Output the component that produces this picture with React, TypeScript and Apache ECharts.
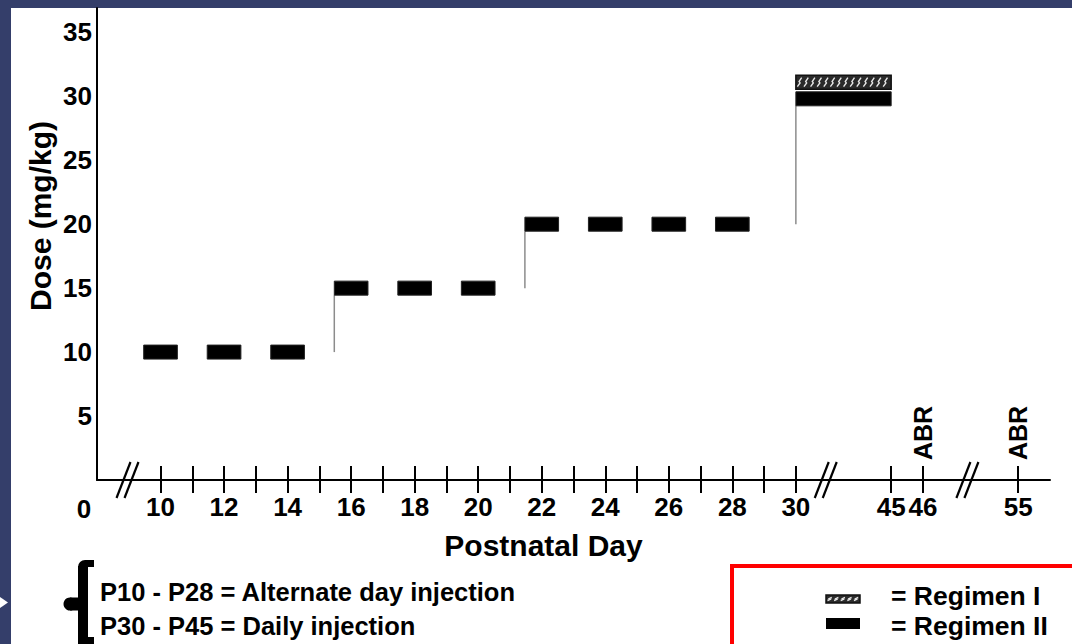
import React, { useEffect, useRef } from "react";
import * as echarts from "echarts";

// ---------- data ----------
const tickDays = [10, 11, 12, 13, 14, 15, 16, 17, 18, 19, 20, 21, 22, 23, 24, 25, 26, 27, 28, 29, 30, 45, 46, 55];
const labelDays = [10, 12, 14, 16, 18, 20, 22, 24, 26, 28, 30, 45, 46, 55];
const originLabelDay = 0;
const altDays = [10, 12, 14, 16, 18, 20, 22, 24, 26, 28];
const altDoses = [10, 10, 10, 15, 15, 15, 20, 20, 20, 20];
const dailyDays = [30, 45];
const dailyDoseRegimenI = 31.1;
const dailyDoseRegimenII = 29.8;
const abrDays = [46, 55];
const yLabels = [5, 10, 15, 20, 25, 30, 35];

// ---------- broken-axis layout (positions on the compressed axis) ----------
const compressedPos: Record<number, number> = { 0: 7.59, 45: 33, 46: 34, 55: 37 };
const dayToPos = (d: number) => (compressedPos[d] !== undefined ? compressedPos[d] : d);
const breakPositions = [8.96, 30.94, 35.4];
const BAR_HALF = 0.53;

const FONT = '"Liberation Sans", Arial, Helvetica, sans-serif';

function hatch(x: number, y: number, w: number, h: number) {
  const kids: any[] = [
    { type: "rect", shape: { x, y, width: w, height: h }, style: { fill: "#2a2a2a", stroke: "#111", lineWidth: 1.5 } },
  ];
  for (let k = x + 3; k < x + w - 2; k += 6.6) {
    kids.push({
      type: "polyline",
      shape: {
        points: [
          [k - 1.5, y + h - 2.5],
          [k + 1.2, y + h * 0.55],
          [k + 0.2, y + h * 0.45],
          [k + 2.8, y + 2.5],
        ],
      },
      style: { stroke: "#e6e6e6", lineWidth: 1.4, fill: null },
    });
  }
  return kids;
}

export default function App() {
  const ref = useRef<HTMLDivElement>(null);

  useEffect(() => {
    if (!ref.current) return;
    const chart = echarts.init(ref.current, undefined, { renderer: "svg" });

    const tickPos = tickDays.map(dayToPos);
    const labelPos = labelDays.map(dayToPos);
    const posToLabel: Record<string, string> = {};
    labelDays.forEach((d) => (posToLabel[String(dayToPos(d))] = String(d)));

    const barData: number[][] = altDays.map((d, i) => [dayToPos(d) - BAR_HALF, dayToPos(d) + BAR_HALF, altDoses[i], 0]);
    barData.push([dayToPos(dailyDays[0]), dayToPos(dailyDays[1]), dailyDoseRegimenII, 0]);
    barData.push([dayToPos(dailyDays[0]), dayToPos(dailyDays[1]), dailyDoseRegimenI, 1]);

    const stepData: number[][] = [];
    for (let i = 1; i < altDays.length; i++) {
      if (altDoses[i] !== altDoses[i - 1]) stepData.push([dayToPos(altDays[i]) - BAR_HALF, altDoses[i - 1], altDoses[i]]);
    }
    stepData.push([dayToPos(dailyDays[0]), altDoses[altDoses.length - 1], dailyDoseRegimenII]);

    const labelFont = { color: "#000", fontSize: 26, fontWeight: "bold" as const, fontFamily: FONT };

    chart.setOption({
      animation: false,
      grid: { left: 97, right: 22, top: 8, bottom: 164, containLabel: false, outerBoundsMode: "none" },
      xAxis: [
        {
          type: "value",
          min: 8,
          max: 38,
          position: "bottom",
          axisLine: { show: true, onZero: false, lineStyle: { color: "#000", width: 2 } },
          axisTick: { show: true, customValues: tickPos, length: 13, lineStyle: { color: "#000", width: 2 } },
          axisLabel: {
            show: true,
            customValues: labelPos,
            formatter: (v: number) => posToLabel[String(v)] ?? "",
            margin: 14,
            ...labelFont,
          },
          splitLine: { show: false },
          name: "Postnatal Day",
          nameLocation: "middle",
          nameGap: 50,
          nameMoveOverlap: false,
          nameTextStyle: { color: "#000", fontSize: 30, fontWeight: "bold", fontFamily: FONT, padding: [0, 60, 0, 0] },
        },
        {
          type: "value",
          min: 8,
          max: 38,
          position: "bottom",
          axisLine: { show: false, onZero: false },
          axisTick: { show: true, inside: true, customValues: tickPos, length: 14, lineStyle: { color: "#000", width: 2 } },
          axisLabel: { show: false },
          splitLine: { show: false },
        },
      ],
      yAxis: {
        type: "value",
        min: 0,
        max: 36.9,
        axisLine: { show: true, lineStyle: { color: "#000", width: 2 } },
        axisTick: { show: false },
        splitLine: { show: false },
        axisLabel: { customValues: yLabels, margin: 5, ...labelFont },
        name: "Dose (mg/kg)",
        nameLocation: "middle",
        nameGap: 42,
        nameMoveOverlap: false,
        nameTextStyle: { color: "#000", fontSize: 30, fontWeight: "bold", fontFamily: FONT, padding: [0, 0, 0, 56] },
      },
      series: [
        {
          type: "custom",
          name: "steps",
          xAxisIndex: 0,
          data: stepData,
          encode: { x: 0, y: [1, 2] },
          renderItem: (_p: any, api: any) => {
            const a = api.coord([api.value(0), api.value(1)]);
            const b = api.coord([api.value(0), api.value(2)]);
            return {
              type: "line",
              shape: { x1: a[0], y1: a[1], x2: b[0], y2: b[1] + 7 },
              style: { stroke: "#8c8c8c", lineWidth: 1.5 },
            };
          },
        },
        {
          type: "custom",
          name: "bars",
          xAxisIndex: 0,
          data: barData,
          encode: { x: [0, 1], y: 2 },
          renderItem: (_p: any, api: any) => {
            const a = api.coord([api.value(0), api.value(2)]);
            const b = api.coord([api.value(1), api.value(2)]);
            const x = a[0];
            const w = b[0] - a[0];
            const y = a[1] - 7;
            if (api.value(3) === 1) {
              return { type: "group", children: hatch(x, y, w, 14) };
            }
            return {
              type: "rect",
              shape: { x, y, width: w, height: 14 },
              style: { fill: "#000", stroke: "#222", lineWidth: 1 },
            };
          },
        },
        {
          type: "custom",
          name: "breaks",
          xAxisIndex: 0,
          data: breakPositions.map((p) => [p, 0]),
          renderItem: (_p: any, api: any) => {
            const c = api.coord([api.value(0), api.value(1)]);
            const kids = [-4, 4].map((dx) => ({
              type: "line",
              shape: { x1: c[0] + dx - 7, y1: c[1] + 18, x2: c[0] + dx + 7, y2: c[1] - 18 },
              style: { stroke: "#000", lineWidth: 2.2 },
            }));
            return { type: "group", children: kids };
          },
        },
        {
          type: "custom",
          name: "abr",
          xAxisIndex: 0,
          data: abrDays.map((d) => [dayToPos(d), 0]),
          renderItem: (_p: any, api: any) => {
            const c = api.coord([api.value(0), api.value(1)]);
            return {
              type: "text",
              x: c[0],
              y: c[1] - 20,
              rotation: Math.PI / 2,
              style: { text: "ABR", align: "left", verticalAlign: "middle", fill: "#000", font: `bold 25px ${FONT}` },
            };
          },
        },
        {
          type: "custom",
          name: "origin",
          xAxisIndex: 0,
          data: [[dayToPos(originLabelDay), 0]],
          renderItem: (_p: any, api: any) => {
            const c = api.coord([api.value(0), api.value(1)]);
            return {
              type: "text",
              x: c[0],
              y: c[1] + 29,
              style: { text: String(originLabelDay), align: "center", verticalAlign: "middle", fill: "#000", font: `bold 26px ${FONT}` },
            };
          },
        },
      ],
      graphic: [
        { type: "polygon", shape: { points: [[0, 597], [8, 602.5], [0, 608]] }, style: { fill: "#fff" } },
        // brace
        { type: "rect", shape: { x: 78, y: 566, width: 10, height: 80 }, style: { fill: "#000" } },
        { type: "rect", shape: { x: 78, y: 560, width: 16, height: 7, r: [7, 0, 0, 0] }, style: { fill: "#000" } },
        { type: "rect", shape: { x: 78, y: 637, width: 16, height: 7 }, style: { fill: "#000" } },
        { type: "circle", shape: { cx: 70, cy: 604, r: 6.5 }, style: { fill: "#000" } },
        { type: "rect", shape: { x: 70, y: 597.5, width: 10, height: 13 }, style: { fill: "#000" } },
        {
          type: "text",
          x: 100,
          y: 592,
          style: { text: "P10 - P28 = Alternate day injection", font: `bold 25.5px ${FONT}`, fill: "#000", verticalAlign: "middle" },
        },
        {
          type: "text",
          x: 100,
          y: 626,
          style: { text: "P30 - P45 = Daily injection", font: `bold 25.5px ${FONT}`, fill: "#000", verticalAlign: "middle" },
        },
        // legend box
        { type: "rect", shape: { x: 732, y: 566, width: 400, height: 120 }, style: { fill: "#fff", stroke: "#ff0000", lineWidth: 4 } },
        { type: "group", children: hatch(826, 595, 34, 8) },
        { type: "rect", shape: { x: 826, y: 618, width: 34, height: 11 }, style: { fill: "#000" } },
        {
          type: "text",
          x: 891,
          y: 596,
          style: { text: "= Regimen I", font: `bold 26.5px ${FONT}`, fill: "#000", verticalAlign: "middle" },
        },
        {
          type: "text",
          x: 891,
          y: 626,
          style: { text: "= Regimen II", font: `bold 26.5px ${FONT}`, fill: "#000", verticalAlign: "middle" },
        },
      ],
    });

    return () => chart.dispose();
  }, []);

  return (
    <div style={{ position: "fixed", left: 0, top: 0, width: 1072, height: 644, background: "#343e6a", overflow: "hidden" }}>
      <div style={{ position: "absolute", left: 11, top: 8, right: 0, bottom: 0, background: "#fff" }} />
      <div ref={ref} style={{ position: "absolute", left: 0, top: 0, width: 1072, height: 644 }} />
    </div>
  );
}
